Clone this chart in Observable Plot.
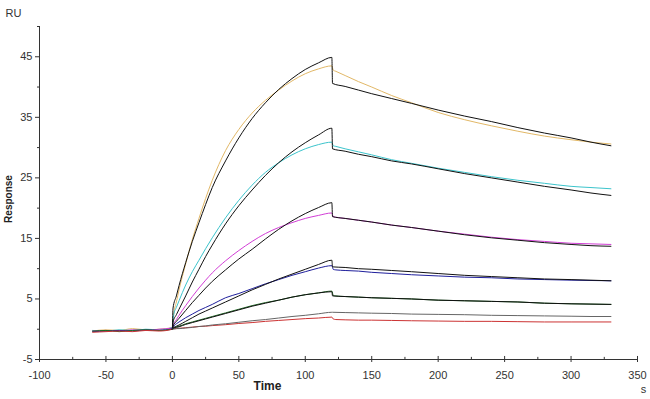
<!DOCTYPE html>
<html>
<head>
<meta charset="utf-8">
<script src="https://cdn.jsdelivr.net/npm/d3@7"></script>
<script src="https://cdn.jsdelivr.net/npm/@observablehq/plot@0.6"></script>
<style>
  html, body { margin: 0; padding: 0; background: #fff; }
  #chart { width: 650px; height: 399px; }
</style>
</head>
<body>
<div id="chart"></div>
<script>
// ---- Tick labels ----
const xMajor = [-100, -50, 0, 50, 100, 150, 200, 250, 300, 350];
const xMinor = [-75, -25, 25, 75, 125, 175, 225, 275, 325];
const yMajor = [-5, 5, 15, 25, 35, 45];
const yMinor = [0, 10, 20, 30, 40, 50];

// ---- Measured sensorgrams (time in s, response in RU) ----
const time = [-60, -50, -40, -30, -20, -10, 0, 1, 3, 5, 10, 15, 20, 25, 30, 40, 50, 60, 70, 80, 90, 100, 110, 120,
              121, 123, 130, 140, 150, 165, 180, 200, 220, 240, 260, 280, 300, 315, 330];
const tan     = [-0.3, -0.1, -0.2, 0.1, -0.1, 0, 0.3, 2.5, 4.5, 6.5, 10.8, 14.8, 18.3, 21.6, 24.6, 29.5, 33, 35.7, 37.8, 39.5, 41, 42.2, 43, 43.5,
                 42.8, 42.6, 41.9, 40.9, 40.0, 38.6, 37.4, 35.8, 34.6, 33.6, 32.7, 31.9, 31.3, 30.9, 30.6];
const cyan    = [-0.2, -0.3, -0.1, -0.2, 0, -0.1, 0.3, 2.4, 3.6, 4.7, 7.3, 9.5, 11.4, 13.3, 15.1, 18.4, 21.3, 23.8, 25.9, 27.5, 28.8, 29.8, 30.5, 30.9,
                 30.3, 30.2, 29.8, 29.3, 28.8, 28.0, 27.4, 26.6, 25.9, 25.2, 24.6, 24.1, 23.6, 23.4, 23.2];
const magenta = [-0.3, -0.2, -0.3, -0.1, -0.2, 0, 0.2, 0.9, 1.6, 2.3, 3.9, 5.4, 6.8, 8.1, 9.3, 11.3, 13, 14.5, 15.8, 16.8, 17.6, 18.3, 18.8, 19.2,
                 18.6, 18.5, 18.3, 18.0, 17.7, 17.2, 16.8, 16.2, 15.7, 15.2, 14.8, 14.5, 14.2, 14.1, 14.0];
const blue    = [-0.4, -0.3, -0.2, -0.3, -0.1, -0.2, 0.1, 0.5, 0.9, 1.2, 1.9, 2.5, 3.1, 3.6, 4.1, 5.2, 5.9, 6.7, 7.5, 8.2, 8.9, 9.5, 10.1, 10.5,
                 9.9, 9.8, 9.7, 9.6, 9.4, 9.2, 9.0, 8.8, 8.6, 8.5, 8.3, 8.2, 8.1, 8.05, 8.0];
const green   = [-0.3, -0.2, -0.4, -0.2, -0.1, -0.2, 0, 0.2, 0.4, 0.5, 0.9, 1.2, 1.5, 1.8, 2.1, 2.7, 3.3, 3.9, 4.4, 4.8, 5.3, 5.7, 6.0, 6.3,
                 5.6, 5.5, 5.4, 5.3, 5.2, 5.1, 5.0, 4.8, 4.7, 4.6, 4.5, 4.3, 4.2, 4.15, 4.1];
const red     = [-0.5, -0.4, -0.3, -0.4, -0.2, -0.3, 0, 0.1, 0.1, 0.15, 0.25, 0.35, 0.45, 0.5, 0.6, 0.75, 0.95, 1.1, 1.3, 1.45, 1.6, 1.75, 1.85, 2.0,
                 1.7, 1.6, 1.55, 1.5, 1.5, 1.45, 1.4, 1.35, 1.3, 1.3, 1.25, 1.2, 1.2, 1.2, 1.2];

// ---- Fitted curves ----
const fitTime = [0, 0.5, 3, 5, 10, 15, 20, 25, 30, 40, 50, 60, 70, 80, 90, 100, 110, 120,
                 120.5, 130, 140, 150, 165, 180, 200, 220, 240, 260, 280, 300, 315, 330];
const fitTan     = [0, 3.5, 5.5, 7.2, 11, 14.5, 17.6, 20.6, 23.4, 27.8, 31.6, 34.8, 37.4, 39.6, 41.4, 42.9, 44, 44.9,
                    40.6, 40.1, 39.5, 38.9, 38.1, 37.3, 36.2, 35.2, 34.3, 33.3, 32.4, 31.6, 30.9, 30.3];
const fitCyan    = [0, 1.2, 2.4, 3.3, 5.5, 7.8, 9.9, 12, 13.9, 17.4, 20.4, 23, 25.4, 27.5, 29.3, 30.8, 32.1, 33.2,
                    29.8, 29.4, 28.9, 28.5, 27.8, 27.3, 26.5, 25.7, 25.0, 24.3, 23.6, 23.0, 22.5, 22.1];
const fitMagenta = [0, 0.5, 1.3, 1.8, 3.1, 4.4, 5.6, 6.8, 7.9, 9.8, 11.6, 13.2, 14.9, 16.5, 17.9, 19.1, 20.1, 20.9,
                    18.6, 18.3, 18.0, 17.7, 17.2, 16.8, 16.2, 15.6, 15.1, 14.7, 14.3, 14.0, 13.8, 13.7];
const fitBlue    = [0, 0.2, 0.5, 0.7, 1.3, 1.9, 2.5, 3.0, 3.5, 4.5, 5.5, 6.5, 7.4, 8.3, 9.1, 9.9, 10.7, 11.4,
                    10.3, 10.2, 10.0, 9.9, 9.7, 9.5, 9.2, 8.9, 8.7, 8.5, 8.3, 8.2, 8.1, 8.0];
const fitGreen   = [0, 0.1, 0.3, 0.4, 0.8, 1.1, 1.4, 1.7, 2.0, 2.6, 3.2, 3.8, 4.3, 4.8, 5.3, 5.7, 6.0, 6.2,
                    5.5, 5.4, 5.3, 5.2, 5.1, 5.0, 4.8, 4.7, 4.6, 4.5, 4.3, 4.2, 4.15, 4.1];
const fitRed     = [0, 0, 0.1, 0.1, 0.2, 0.3, 0.45, 0.55, 0.7, 0.9, 1.15, 1.4, 1.6, 1.85, 2.1, 2.3, 2.55, 2.8,
                    2.8, 2.75, 2.7, 2.65, 2.6, 2.5, 2.45, 2.4, 2.3, 2.25, 2.2, 2.15, 2.1, 2.1];

const dataSeries = [
  {values: tan, color: "#e2b867"},
  {values: cyan, color: "#3cc4cc"},
  {values: magenta, color: "#d23ed6"},
  {values: blue, color: "#1f1f9c"},
  {values: green, color: "#1d6b22"},
  {values: red, color: "#cc3333"}
];
const fitSeries = [
  {values: fitTan, color: "#111"},
  {values: fitCyan, color: "#111"},
  {values: fitMagenta, color: "#111"},
  {values: fitBlue, color: "#111"},
  {values: fitGreen, color: "#111"},
  {values: fitRed, color: "#666"}
];

const rows = (ts, vs) => ts.map((t, i) => ({t, v: vs[i]}));

const marks = [];
for (const s of dataSeries) {
  marks.push(Plot.line(rows(time, s.values), {x: "t", y: "v", stroke: s.color, strokeWidth: 1, curve: "monotone-x"}));
}
for (const s of fitSeries) {
  marks.push(Plot.line(rows(fitTime, s.values), {x: "t", y: "v", stroke: s.color, strokeWidth: 1, curve: "monotone-x"}));
}

const fmt = d => String(d);

const chart = Plot.plot({
  width: 650,
  height: 399,
  marginLeft: 39,
  marginRight: 13,
  marginTop: 26,
  marginBottom: 40,
  style: {fontFamily: "'Liberation Sans', Arial, sans-serif", fontSize: "11px", color: "#333", background: "#fff"},
  x: {domain: [-100, 350]},
  y: {domain: [-5, 50]},
  marks: [
    Plot.axisY({ticks: yMajor, tickSize: 4, tickPadding: 3, tickFormat: fmt, label: null, fontSize: 11}),
    Plot.axisY({ticks: yMinor, tickSize: 2, tickFormat: () => "", label: null}),
    Plot.axisX({ticks: xMajor, tickSize: 3, tickPadding: 9, tickFormat: fmt, label: null, fontSize: 11}),
    Plot.ruleX(xMajor, {x: d => d, y1: -5, y2: -4.5, stroke: "#333"}),
    Plot.ruleX(xMinor, {x: d => d, y1: -5, y2: -4.65, stroke: "#333"}),
    Plot.ruleX([-100], {stroke: "#333"}),
    Plot.ruleY([-5], {stroke: "#333"}),
    ...marks,
    Plot.text(["RU"], {frameAnchor: "top-left", dx: -34, dy: -17, textAnchor: "start", fontSize: 11, fill: "#333"}),
    Plot.text(["Response"], {frameAnchor: "left", dx: -31, dy: 6, rotate: -90, textAnchor: "middle", fontSize: 10, fontWeight: "bold", fill: "#222"}),
    Plot.text(["Time"], {frameAnchor: "bottom-left", dx: 228, dy: 30, textAnchor: "middle", fontSize: 12, fontWeight: "bold", fill: "#222"}),
    Plot.text(["s"], {frameAnchor: "bottom-right", dx: 6, dy: 33, textAnchor: "middle", fontSize: 11, fill: "#333"})
  ]
});
document.getElementById("chart").appendChild(chart);
</script>
</body>
</html>
